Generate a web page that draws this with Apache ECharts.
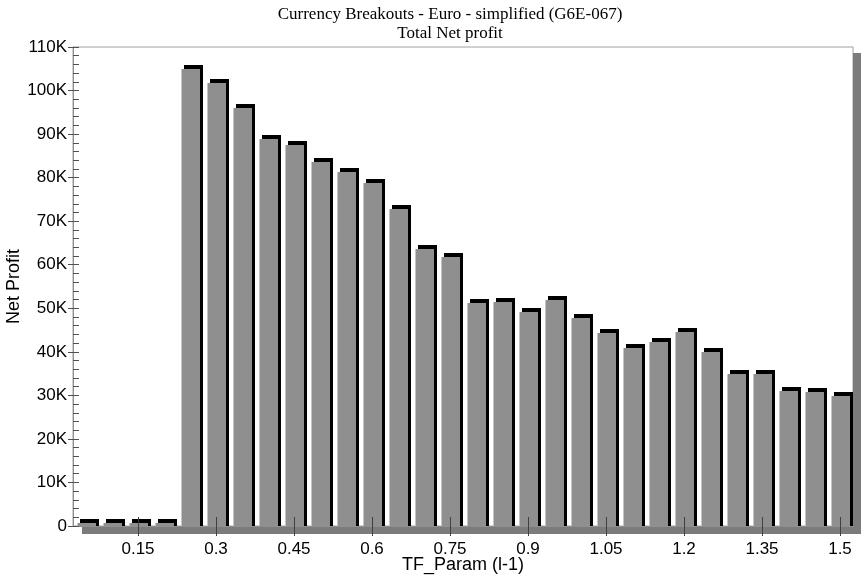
<!DOCTYPE html>
<html><head><meta charset="utf-8">
<script src="https://cdn.jsdelivr.net/npm/echarts@6/dist/echarts.min.js"></script>
<style>html,body{margin:0;padding:0;background:#fff}#c{width:862px;height:577px}</style>
</head><body><div id="c"></div>
<script>
const categories = ['0.05','0.1','0.15','0.2','0.25','0.3','0.35','0.4','0.45','0.5','0.55','0.6','0.65','0.7','0.75','0.8','0.85','0.9','0.95','1','1.05','1.1','1.15','1.2','1.25','1.3','1.35','1.4','1.45','1.5'];
const netProfit = [600,600,600,600,104900,101700,96100,88900,87400,83700,81400,78800,72900,63600,61800,51100,51400,49200,52000,47800,44400,40900,42300,44600,40000,34800,35000,31000,30800,29900];
const xTickLabels = ['0.15','0.3','0.45','0.6','0.75','0.9','1.05','1.2','1.35','1.5'];
const titleLines = ['Currency Breakouts - Euro - simplified (G6E-067)','Total Net profit'];
const xName = 'TF_Param (l-1)';
const yName = 'Net Profit';

const G = {left:73, top:47, width:780, height:479};
const DEPTH = 8;
const sans = 'Liberation Sans';
const chart = echarts.init(document.getElementById('c'), null, {renderer:'canvas'});
const isLabeled = (i) => xTickLabels.indexOf(categories[i]) >= 0;
chart.setOption({
  animation:false,
  backgroundColor:'#fff',
  title:{
    text: titleLines.join('\n'), left:445, textAlign:'center', top:0, itemGap:0,
    textStyle:{fontFamily:'Liberation Serif', fontSize:17, fontWeight:'normal', lineHeight:19, color:'#000'}
  },
  grid:{left:G.left, top:G.top, width:G.width, height:G.height, show:true, borderColor:'#a0a0a0', borderWidth:1, backgroundColor:'transparent', containLabel:false, outerBoundsMode:'none'},
  graphic:[
    {type:'rect', z:1, shape:{x:G.left+9, y:G.top+G.height, width:G.width-1, height:DEPTH}, style:{fill:'#7b7b7b'}},
    {type:'rect', z:1, shape:{x:G.left+G.width, y:G.top+6, width:DEPTH, height:G.height+DEPTH-6}, style:{fill:'#7b7b7b'}}
  ],
  xAxis:[
    {type:'category', data:categories, position:'bottom', z:10,
     axisLine:{lineStyle:{color:'#909090', width:1}},
     axisTick:{show:true, alignWithLabel:true, interval:(i)=>isLabeled(i), length:10, lineStyle:{color:'#404040'}},
     axisLabel:{interval:(i)=>isLabeled(i), margin:15, fontFamily:sans, fontSize:17, color:'#000'},
     splitLine:{show:false},
     name:xName, nameLocation:'middle', nameGap:30, nameMoveOverlap:false, nameTextStyle:{fontFamily:sans, fontSize:18, color:'#000'}},
    {type:'category', data:categories, position:'bottom', z:10,
     axisLine:{show:false},
     axisTick:{show:true, inside:true, alignWithLabel:true, interval:(i)=>isLabeled(i), length:9, lineStyle:{color:'#404040'}},
     axisLabel:{show:false}, splitLine:{show:false}}
  ],
  yAxis:[
    {type:'value', min:0, max:110000, interval:10000, z:10,
     axisLine:{show:true, lineStyle:{color:'#909090'}},
     axisTick:{show:true, length:5, lineStyle:{color:'#505050'}},
     axisLabel:{margin:6, fontFamily:sans, fontSize:17, color:'#000', formatter:(v)=> v===0 ? '0' : (v/1000)+'K'},
     splitLine:{show:false},
     name:yName, nameLocation:'middle', nameGap:50, nameMoveOverlap:false, nameTextStyle:{fontFamily:sans, fontSize:18, color:'#000'}},
    {type:'value', min:0, max:110000, interval:2000, z:10, position:'left',
     axisLine:{show:false},
     axisTick:{show:true, inside:true, length:6, lineStyle:{color:'#505050'}},
     axisLabel:{show:false}, splitLine:{show:false}}
  ],
  series:[{
    type:'custom', xAxisIndex:0, yAxisIndex:0, z:2,
    data: categories.map((c,i)=>[i, netProfit[i]]),
    encode:{x:0, y:1},
    renderItem:(params, api)=>{
      const c = api.coord([api.value(0), api.value(1)]);
      const b = api.coord([api.value(0), 0]);
      const band = api.size([1,0])[0];
      const w = Math.round(band*0.74);
      const x = Math.round(c[0] - w/2);
      const top = Math.round(c[1]);
      const base = Math.round(b[1]);
      return {type:'group', children:[
        {type:'rect', shape:{x:x+3, y:top-4, width:w, height:base-top+4}, style:{fill:'#000'}},
        {type:'rect', shape:{x:x, y:top, width:w, height:base-top}, style:{fill:'#8f8f8f'}},
        {type:'rect', shape:{x:x, y:top, width:1, height:base-top}, style:{fill:'#c6c6c6'}}
      ]};
    }
  }]
});
</script></body></html>
